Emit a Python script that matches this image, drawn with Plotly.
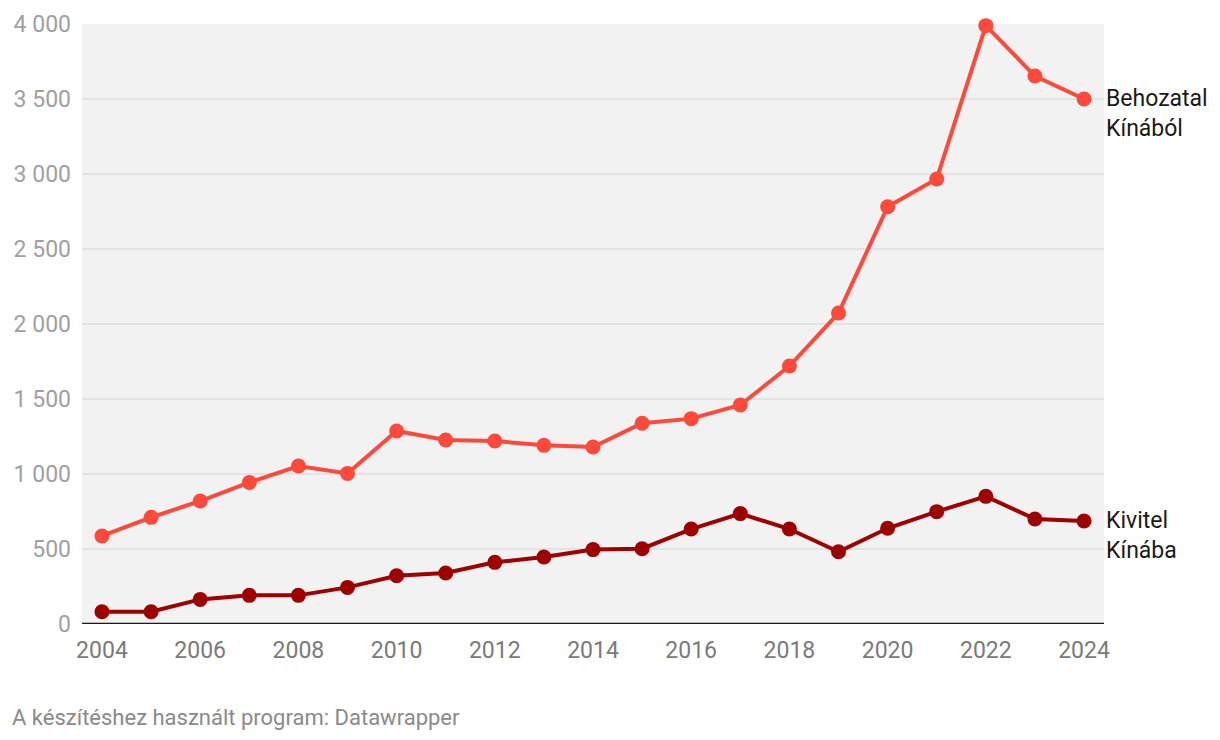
import plotly.graph_objects as go

years = list(range(2004, 2025))
behozatal = [587, 711, 820, 944, 1053, 1004, 1287, 1227, 1220, 1191, 1180, 1338, 1369, 1460, 1720, 2073, 2782, 2967, 3989, 3653, 3500]
kivitel = [82, 82, 164, 191, 191, 244, 322, 340, 411, 447, 496, 502, 633, 736, 633, 482, 638, 749, 851, 700, 687]

series_names = ["Behozatal<br>Kínából", "Kivitel<br>Kínába"]
colors = ["#ff4a3b", "#9e0000"]

y_tickvals = [0, 500, 1000, 1500, 2000, 2500, 3000, 3500, 4000]
y_ticktext = ["0", "500", "1 000", "1 500", "2 000", "2 500", "3 000", "3 500", "4 000"]
x_tickvals = list(range(2004, 2025, 2))
x_ticktext = [str(v) for v in x_tickvals]

footer = "A készítéshez használt program: Datawrapper"

fig = go.Figure()
for name, vals, col in zip(series_names, [behozatal, kivitel], colors):
    fig.add_trace(go.Scatter(
        x=years, y=vals, mode="lines+markers", name=name,
        line=dict(color=col, width=4),
        marker=dict(color=col, size=15),
        showlegend=False, cliponaxis=False,
    ))
    fig.add_annotation(
        x=years[-1], y=vals[-1], xref="x", yref="y",
        text=name, showarrow=False, xanchor="left", yanchor="top",
        xshift=20, yshift=16, align="left",
        font=dict(family="Roboto", size=23, color="#1a1a1a"),
    )

fig.add_annotation(
    x=-72/1022, y=-93/600, xref="paper", yref="paper", text=footer, showarrow=False,
    xanchor="left", yanchor="middle",
    font=dict(family="Roboto", size=22, color="#8a8a8a"),
)

fig.update_layout(
    width=1204, height=724,
    margin=dict(l=74, r=108, t=16, b=108, autoexpand=False),
    plot_bgcolor="#f2f2f2", paper_bgcolor="#ffffff",
    font=dict(family="Roboto"),
)
fig.update_xaxes(
    range=[2003.593, 2024.407], tickvals=x_tickvals, ticktext=x_ticktext,
    showgrid=False, zeroline=False, showline=False, automargin=False,
    tickfont=dict(family="Roboto", size=23, color="#7a7a7a"),
    ticks="", ticklabelstandoff=10,
)
fig.update_yaxes(
    range=[0, 4000], tickvals=y_tickvals, ticktext=y_ticktext,
    showgrid=True, gridcolor="#e3e3e3", gridwidth=2,
    zeroline=False, showline=False, automargin=False,
    tickfont=dict(family="Roboto", size=23, color="#a0a0a0"),
    ticks="", ticklabelstandoff=10,
)
fig.add_shape(type="line", xref="paper", yref="y", x0=0, x1=1, y0=0, y1=0,
              line=dict(color="#1a1a1a", width=2.5), layer="above")

fig.write_html("out.html")
